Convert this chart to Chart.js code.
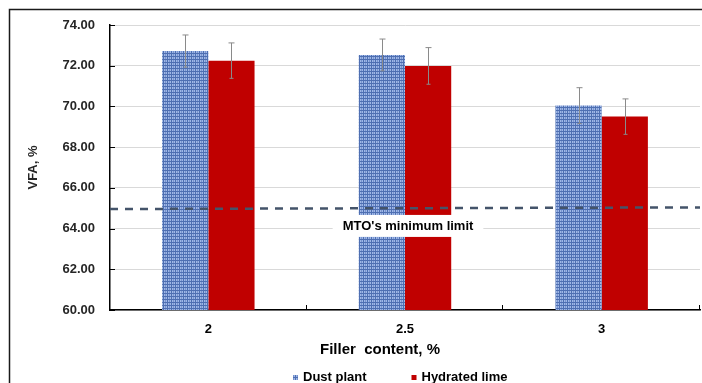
<!DOCTYPE html>
<html>
<head>
<meta charset="utf-8">
<script src="https://cdn.jsdelivr.net/npm/chart.js@4/dist/chart.umd.min.js"></script>
<style>
  html, body { margin: 0; padding: 0; background: #fff; }
  #wrap { width: 702px; height: 383px; }
</style>
</head>
<body>
<div id="wrap"><canvas id="vfa-chart" width="702" height="383"></canvas></div>
<script>
const fillerContent = ['2', '2.5', '3'];
const dustPlant = [72.72, 72.53, 70.04];
const dustPlantErr = [0.79, 0.78, 0.88];
const hydratedLime = [72.25, 71.99, 69.50];
const hydratedLimeErr = [0.87, 0.90, 0.87];
const yMin = 60, yMax = 74, yStep = 2;
const mtoLimit = [64.96, 65.04];   // at left and right edge of plot
const mtoLabel = "MTO's minimum limit";
const xTitle = 'Filler  content, %';
const yTitle = 'VFA, %';

const FONT = '"Liberation Sans", Arial, sans-serif';
const TEXT = '#262626';

function makeWeave() {
    const c = document.createElement('canvas');
    c.width = 4; c.height = 3;
    const g = c.getContext('2d');
    g.fillStyle = '#4e6fb2';
    g.fillRect(0, 0, 4, 3);
    g.fillStyle = '#9fb8e6';
    g.fillRect(0, 0, 3, 2);
    g.fillStyle = '#7893cf';
    g.fillRect(1, 0, 1, 2);
    return g.createPattern(c, 'repeat');
}
const weave = makeWeave();

const errorBars = {
    id: 'errorBars',
    afterDatasetsDraw(chart) {
        const ctx = chart.ctx;
        const y = chart.scales.y;
        const errs = [dustPlantErr, hydratedLimeErr];
        ctx.save();
        ctx.strokeStyle = '#8a8a8a';
        ctx.lineWidth = 1;
        chart.data.datasets.forEach((ds, di) => {
            chart.getDatasetMeta(di).data.forEach((bar, i) => {
                const x = Math.round(bar.x) + 0.5;
                const top = y.getPixelForValue(ds.data[i] + errs[di][i]);
                const bot = y.getPixelForValue(ds.data[i] - errs[di][i]);
                ctx.beginPath();
                ctx.moveTo(x, top); ctx.lineTo(x, bot);
                ctx.moveTo(x - 3, top); ctx.lineTo(x + 3, top);
                ctx.moveTo(x - 2, bot); ctx.lineTo(x + 2, bot);
                ctx.stroke();
            });
        });
        ctx.restore();
    }
};

const decorations = {
    id: 'decorations',
    beforeDraw(chart) {
        const ctx = chart.ctx;
        ctx.save();
        ctx.strokeStyle = '#1a1a1a';
        ctx.lineWidth = 1.5;
        ctx.beginPath();
        ctx.moveTo(9.5, chart.height);
        ctx.lineTo(9.5, 9.5);
        ctx.lineTo(chart.width, 9.5);
        ctx.stroke();
        ctx.restore();
    },
    afterDatasetsDraw(chart) {
        const ctx = chart.ctx;
        const {left, right, top, bottom} = chart.chartArea;
        const x = chart.scales.x, y = chart.scales.y;
        ctx.save();
        // minimum limit line
        ctx.strokeStyle = '#44546a';
        ctx.lineWidth = 2.5;
        ctx.setLineDash([8, 7]);
        ctx.beginPath();
        ctx.moveTo(left, y.getPixelForValue(mtoLimit[0]));
        ctx.lineTo(right, y.getPixelForValue(mtoLimit[1]));
        ctx.stroke();
        ctx.setLineDash([]);
        // label with white box
        ctx.font = 'bold 13px ' + FONT;
        const cx = (left + right) / 2 + 3;
        const cy = y.getPixelForValue(64.13);
        const w = ctx.measureText(mtoLabel).width;
        ctx.fillStyle = '#fff';
        ctx.fillRect(cx - w / 2 - 10, cy - 11, w + 20, 22);
        ctx.fillStyle = '#000';
        ctx.textAlign = 'center';
        ctx.textBaseline = 'middle';
        ctx.fillText(mtoLabel, cx, cy);
        // inside tick marks
        ctx.strokeStyle = '#000';
        ctx.lineWidth = 1;
        ctx.beginPath();
        y.ticks.forEach(t => {
            const py = Math.round(y.getPixelForValue(t.value)) + 0.5;
            ctx.moveTo(left, py); ctx.lineTo(left + 5, py);
        });
        for (let i = 0; i < fillerContent.length; i++) {
            const b = i < fillerContent.length - 1
                ? (x.getPixelForValue(i) + x.getPixelForValue(i + 1)) / 2 : right;
            const px = Math.round(b) - 0.5;
            ctx.moveTo(px, bottom); ctx.lineTo(px, bottom - 5);
        }
        ctx.stroke();
        ctx.restore();
    },
    afterDraw(chart) {
        const ctx = chart.ctx;
        const {left, right, bottom} = chart.chartArea;
        ctx.save();
        // x axis title
        ctx.font = 'bold 15px ' + FONT;
        ctx.fillStyle = '#000';
        ctx.textAlign = 'center';
        ctx.textBaseline = 'middle';
        ctx.fillText(xTitle, (left + right) / 2 - 25, bottom + 40);
        // legend
        ctx.font = 'bold 13px ' + FONT;
        ctx.textAlign = 'left';
        let lx = 293;
        const ly = bottom + 67.5;
        chart.data.datasets.forEach(ds => {
            ctx.fillStyle = ds.backgroundColor;
            ctx.fillRect(lx, ly - 2.5, 5, 5);
            ctx.fillStyle = '#000';
            ctx.fillText(ds.label, lx + 10, ly);
            lx += 118.5;
        });
        ctx.restore();
    }
};

new Chart(document.getElementById('vfa-chart'), {
    type: 'bar',
    data: {
        labels: fillerContent,
        datasets: [
            {
                label: 'Dust plant',
                data: dustPlant,
                backgroundColor: weave,
                borderWidth: 0
            },
            {
                label: 'Hydrated lime',
                data: hydratedLime,
                backgroundColor: '#c00000',
                borderWidth: 0
            }
        ]
    },
    options: {
        responsive: false,
        animation: false,
        categoryPercentage: 0.47,
        barPercentage: 1.0,
        layout: { padding: { top: 25, right: 2, left: 0, bottom: 0 } },
        plugins: {
            legend: { display: false },
            tooltip: { enabled: false }
        },
        scales: {
            x: {
                grid: { display: false, drawTicks: false },
                border: { display: true, color: '#000', width: 1.5 },
                ticks: {
                    padding: 12,
                    color: '#000',
                    font: { family: FONT, size: 13, weight: 'bold' }
                },
                afterFit(scale) { scale.height = 73; }
            },
            y: {
                min: yMin,
                max: yMax,
                grid: { color: '#d9d9d9', lineWidth: 1, drawTicks: false },
                border: { display: true, color: '#000', width: 1.5 },
                ticks: {
                    stepSize: yStep,
                    padding: 15,
                    color: TEXT,
                    font: { family: FONT, size: 13, weight: 'bold' },
                    callback: v => v.toFixed(2)
                },
                title: {
                    display: true,
                    text: yTitle,
                    color: TEXT,
                    padding: { top: 26, bottom: 0 },
                    font: { family: FONT, size: 13, weight: 'bold' }
                },
                afterFit(scale) { scale.width = 110; }
            }
        }
    },
    plugins: [errorBars, decorations]
});
</script>
</body>
</html>
